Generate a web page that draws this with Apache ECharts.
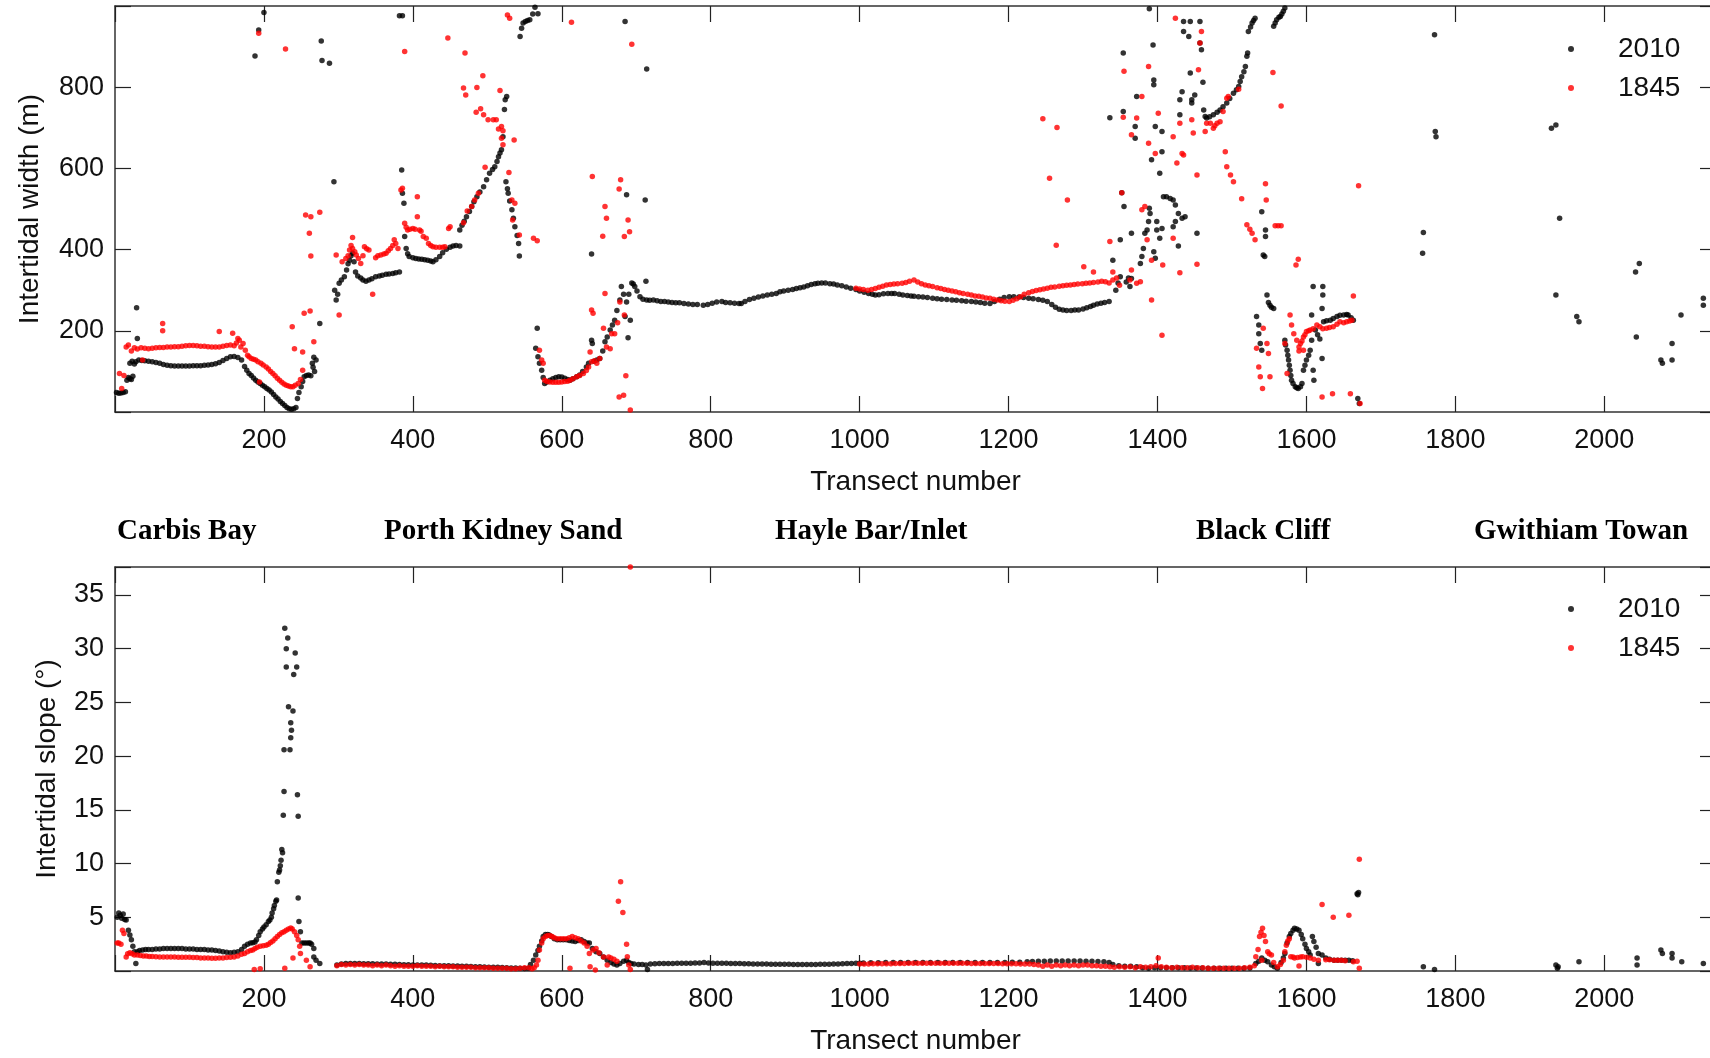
<!DOCTYPE html>
<html>
<head>
<meta charset="utf-8">
<script src="https://cdn.jsdelivr.net/npm/echarts@6/dist/echarts.min.js"></script>
<style>
  html, body { margin: 0; padding: 0; background: #fff; }
  #chart { width: 1710px; height: 1058px; }
</style>
</head>
<body>
<div id="chart"></div>
<script>
// Intertidal width (m), 2010 survey  [transect, value]
const width2010 = [
  [2,48],[5,46],[8,47],[11,48],[14,50],[16,78],[18,85],[20,82],[22,80],[24,88],[20,120],[23,125],[26,118],[28,124],[29,257],[30,181],
  [32,128],[36,127],[40,126],[45,125],[50,124],[55,122],[60,120],[65,117],[70,115],[75,114],[80,113],[85,113],[90,113],[95,113],[100,113],
  [105,114],[110,114],[115,114],[120,115],[125,116],[130,117],[135,119],[140,122],[145,127],[150,132],[155,136],[160,137],[165,134],[170,128],
  [174,112],[177,103],[180,95],[183,90],[186,84],[189,78],[192,74],[195,70],[198,66],[201,62],[204,58],[207,54],[210,49],[213,43],[216,37],
  [219,32],[222,26],[225,21],[228,16],[231,11],[234,8],[237,7],[240,8],[243,11],[245,33],[247,48],[250,62],[252,75],[254,87],[257,90],
  [260,91],[263,89],[265,120],[266,110],[267,135],[268,100],[270,128],[275,218],
  [188,877],[193,941],[200,984],[277,914],[278,866],[288,859],[294,567],[382,976],[386,976],[385,596],
  [295,300],[297,276],[299,290],[301,317],[304,325],[308,333],[311,350],[313,365],[315,374],[317,385],[319,391],[321,370],[323,345],[326,335],
  [330,330],[333,325],[337,322],[341,325],[345,328],[350,333],[355,335],[359,337],[364,339],[368,340],[373,341],[377,343],[382,345],[386,539],
  [388,514],[389,432],[391,403],[393,390],[395,383],[400,380],[404,378],[408,377],[412,376],[416,375],[420,374],[424,372],[427,370],[431,375],
  [436,383],[440,392],[445,401],[450,406],[454,409],[458,410],[463,409],
  [463,448],[466,460],[469,470],[472,481],[476,494],[479,506],[482,518],[486,530],[490,542],[495,555],[499,572],[503,588],[507,597],[510,604],
  [513,617],[515,629],[517,638],[519,646],[521,678],[523,745],[524,769],[526,777],
  [525,567],[527,550],[528,539],[530,520],[533,498],[535,477],[537,456],[540,435],[542,415],[543,384],
  [544,925],[546,945],[548,958],[551,962],[554,964],[557,966],[561,980],[564,997],[568,981],
  [567,206],[565,157],[568,136],[570,120],[573,103],[575,85],[577,70],[580,74],[584,78],[588,82],[592,85],[596,87],[600,86],[604,83],[608,80],
  [611,78],[615,82],[620,87],[624,91],[628,100],[633,111],[636,120],[640,177],[641,169],[643,125],[647,128],[651,132],[655,150],[658,173],
  [661,185],[665,202],[668,214],[671,226],[674,250],[678,276],[680,309],[683,290],[685,235],[687,271],[689,183],[692,226],[690,290],
  [640,389],[685,962],[687,535],[712,522],[713,322],[714,845],
  [694,318],[696,315],[698,309],[701,298],[705,284],[709,278],[714,276],[718,275],[723,276],[728,274],[733,272],[738,272],[743,271],[748,270],
  [753,269],[758,269],[764,267],[770,266],[776,265],[782,265],[790,263],[796,265],[802,268],[808,271],[815,272],[820,270],[826,269],[832,268],
  [838,267],[841,267],[846,272],[852,277],[858,280],[864,283],[870,286],[876,288],[882,290],[888,292],[893,296],[898,298],[904,300],[910,302],
  [915,304],[920,306],[925,308],[930,311],[935,314],[940,316],[944,317],[949,318],[954,318],[960,316],[965,315],[970,313],[976,311],[982,308],
  [988,305],[995,302],[1000,298],[1006,295],[1012,292],[1017,290],[1021,288],[1026,289],[1032,291],[1038,292],[1043,292],[1047,292],[1053,290],
  [1058,288],[1064,287],[1069,286],[1073,285],[1079,284],[1085,283],[1091,282],[1098,280],[1104,279],[1110,278],[1117,277],[1124,276],[1130,275],
  [1137,274],[1143,273],[1150,272],[1156,271],[1162,270],[1168,268],[1175,267],[1181,272],[1188,278],[1194,282],[1201,284],[1207,284],[1214,283],
  [1220,282],[1227,280],[1233,279],[1240,277],[1246,275],[1252,272],[1258,265],[1263,258],[1268,253],[1273,251],[1278,250],[1284,250],[1289,251],
  [1294,251],[1300,254],[1305,257],[1310,260],[1314,263],[1319,266],[1324,268],[1329,270],[1335,272],
  [1336,725],[1340,374],[1344,300],[1347,318],[1350,333],[1350,424],[1352,540],[1354,740],[1354,884],[1355,506],[1358,320],[1361,330],[1363,309],
  [1365,329],[1365,440],[1370,703],[1370,674],[1372,777],[1377,366],[1379,383],[1381,403],[1383,440],[1386,448],[1388,469],[1389,993],[1389,502],
  [1390,489],[1392,621],[1394,904],[1395,806],[1395,818],[1395,395],[1397,703],[1397,379],[1399,469],[1399,448],[1403,588],[1403,428],[1406,691],
  [1406,641],[1406,452],[1408,530],[1412,530],[1417,526],[1421,522],[1424,510],[1424,469],[1421,456],[1428,489],[1428,409],[1430,732],[1430,769],
  [1433,789],[1433,477],[1435,937],[1435,962],[1437,481],[1442,925],[1444,962],[1444,835],[1446,769],[1446,761],[1450,781],[1453,440],[1457,962],
  [1457,909],[1459,892],[1461,812],[1462,744],[1464,728],
  [1466,724],[1470,727],[1475,732],[1480,738],[1484,744],[1488,752],[1493,761],[1497,772],[1502,785],[1506,794],[1509,802],[1511,814],[1513,826],
  [1516,838],[1518,851],[1520,876],[1521,884],[1522,937],[1525,948],[1527,958],[1529,964],[1531,970],
  [1556,950],[1558,958],[1560,966],[1563,972],[1565,974],[1567,980],[1569,987],[1571,995],
  [1533,235],[1536,214],[1536,193],[1538,169],[1540,152],[1540,493],[1542,387],[1544,383],[1545,448],[1545,432],[1547,288],[1549,270],[1551,263],
  [1553,258],[1556,255],
  [1571,177],[1572,165],[1574,152],[1575,140],[1576,128],[1577,115],[1578,103],[1579,90],[1580,78],[1582,70],[1585,62],[1587,60],[1589,58],
  [1592,62],[1594,70],[1596,103],[1598,115],[1600,128],[1603,140],[1605,152],[1607,177],[1607,239],[1609,309],[1609,103],[1610,78],[1612,202],
  [1615,190],[1618,180],[1621,132],[1622,309],[1622,288],[1621,255],[1623,222],[1627,225],[1632,226],[1636,230],[1641,235],[1645,238],[1650,239],
  [1654,240],[1656,239],[1660,232],[1663,226],[1669,33],[1671,21],
  [1756,391],[1757,442],[1772,929],[1773,691],[1774,678],[1929,699],[1935,707],[1940,477],[1935,288],[1963,235],[1966,222],[2042,345],[2047,366],
  [2043,185],[2076,128],[2078,120],[2091,169],[2091,128],[2103,239],[2133,280],[2133,263]
];

// Intertidal width (m), 1845 survey
const width1845 = [
  [6,95],[9,58],[12,90],[15,160],[18,165],[22,150],[26,158],[30,155],[35,158],[37,128],[40,157],[45,156],[50,157],[55,158],[60,159],[64,218],
  [64,200],[65,159],[70,160],[75,160],[80,161],[85,161],[90,162],[95,163],[100,164],[105,164],[110,163],[115,162],[120,162],[125,161],[130,160],
  [135,160],[140,160],[140,198],[145,162],[150,164],[155,165],[158,194],[160,163],[163,170],[165,181],[167,177],[169,160],[172,169],[175,152],
  [178,140],[180,136],[183,132],[186,130],[189,128],[192,124],[194,74],[196,120],[199,116],[203,111],[206,106],[209,100],[212,95],[215,89],
  [218,83],[221,78],[224,73],[227,69],[230,66],[233,64],[236,62],[239,62],[241,156],[238,210],[242,66],[246,70],[249,80],[252,148],[252,103],
  [254,243],[256,485],[261,440],[262,249],[263,384],[263,481],[267,173],[275,492],[193,933],[229,894],
  [297,387],[301,239],[305,370],[310,378],[313,385],[315,399],[317,410],[319,430],[319,403],[322,395],[324,387],[327,378],[330,366],[333,385],
  [335,407],[338,402],[341,399],[346,290],[350,380],[353,385],[357,387],[361,389],[364,391],[367,397],[370,403],[373,410],[375,424],[377,415],
  [380,403],[384,547],[386,551],[389,465],[389,888],[391,455],[393,448],[396,450],[400,452],[403,450],[406,530],[406,481],[409,448],[411,445],
  [414,432],[418,428],[421,415],[424,410],[427,407],[431,406],[436,406],[440,406],[443,407],[448,452],[450,456],
  [447,921],[468,466],[470,884],[468,798],[471,781],[486,799],[494,828],[517,792],[485,738],[491,747],[495,732],[501,720],[508,720],[512,720],
  [515,697],[519,703],[521,693],[519,674],[521,658],[536,670],[497,603],[529,590],[488,539],[483,522],[479,506],[473,495],[533,522],[537,514],
  [534,473],[543,436],[562,428],[567,422],[527,978],[530,970],[613,960],[694,906],
  [570,152],[573,128],[575,120],[577,78],[580,75],[584,74],[588,73],[592,73],[596,73],[600,74],[604,75],[608,76],[611,78],[615,82],[620,87],
  [624,90],[629,95],[633,102],[636,111],[638,148],[640,124],[642,243],[640,251],[644,126],[647,120],[651,132],[656,206],[658,292],[660,160],
  [665,156],[667,193],[671,193],[675,220],[678,271],[684,239],[641,580],[658,506],[660,477],[655,433],[677,549],[679,572],[689,473],[691,444],
  [684,432],[686,89],[677,37],[683,41],[692,5],
  [995,305],[1000,303],[1005,302],[1011,300],[1016,302],[1021,304],[1026,307],[1031,310],[1036,313],[1041,314],[1046,315],[1051,316],[1057,317],
  [1062,319],[1067,322],[1073,325],[1078,320],[1083,316],[1088,313],[1093,311],[1098,309],[1104,306],[1109,304],[1114,302],[1119,300],[1124,298],
  [1129,296],[1134,294],[1139,292],[1145,290],[1150,288],[1155,286],[1160,285],[1165,283],[1170,281],[1175,280],[1180,278],[1185,276],[1190,274],
  [1195,273],[1201,272],[1206,275],[1211,279],[1216,284],[1221,290],[1227,294],[1232,297],[1237,299],[1242,301],[1247,303],[1252,305],[1257,307],
  [1262,308],[1268,310],[1273,311],[1278,312],[1283,313],[1288,314],[1293,315],[1299,316],[1304,317],[1309,318],[1314,319],[1320,320],[1325,322],
  [1330,321],[1335,318],[1340,325],[1345,330],[1349,312],
  [1246,722],[1265,701],[1255,576],[1279,522],[1264,411],[1301,358],[1314,345],[1336,420],[1340,345],[1352,540],[1354,726],[1355,839],
  [1363,325],[1365,350],[1365,683],[1372,317],[1372,724],[1377,321],[1379,498],[1379,777],[1383,506],[1386,424],[1388,851],[1388,662],[1392,374],
  [1392,276],[1397,637],[1401,736],[1406,189],[1407,362],[1421,678],[1421,428],[1424,970],[1426,613],[1430,711],[1430,343],[1433,637],[1435,633],
  [1446,720],[1448,687],[1453,584],[1453,364],[1455,843],[1457,909],[1459,937],[1464,691],[1466,711],[1471,711],[1475,699],[1477,705],[1480,711],
  [1484,715],[1488,740],[1491,641],[1493,773],[1495,777],[1493,604],[1498,584],[1502,567],[1509,795],[1513,525],[1520,461],[1524,450],[1527,440],
  [1531,424],[1545,562],[1546,522],[1555,836],[1566,754],[1558,459],[1562,459],[1566,459],[1589,376],[1586,362],[1670,557],
  [1533,157],[1536,111],[1538,87],[1541,58],[1542,206],[1547,169],[1549,144],[1551,87],[1571,169],[1574,95],[1578,239],[1580,214],[1583,193],
  [1587,177],[1590,160],[1592,169],[1594,175],[1596,185],[1598,190],[1600,198],[1603,200],[1605,202],[1609,205],[1614,214],[1618,210],[1622,205],
  [1627,206],[1631,208],[1636,210],[1641,216],[1645,222],[1650,220],[1654,222],[1658,224],[1661,226],[1663,286],[1621,37],[1635,45],[1659,45],
  [1672,21],[1596,152],[1590,150]
];

// Intertidal slope (deg), 2010 survey
const slope2010 = [
  [3,5.0],[5,5.4],[7,5.2],[9,4.9],[11,5.3],[13,4.8],[15,4.75],[18,3.8],[20,3.35],[22,2.9],[24,2.3],[26,1.8],[28,0.7],[30,1.8],
  [33,1.9],[37,1.95],[41,2.0],[45,2.0],[50,2.0],[55,2.05],[60,2.05],[65,2.1],[70,2.1],[75,2.1],[80,2.1],[85,2.1],[90,2.1],[95,2.05],[100,2.05],
  [105,2.05],[110,2.0],[115,2.0],[120,2.0],[125,1.95],[130,1.95],[135,1.9],[140,1.85],[145,1.8],[150,1.75],[155,1.7],[160,1.75],[165,1.8],
  [170,2.0],[174,2.3],[178,2.5],[182,2.6],[185,2.64],[188,2.7],[190,2.9],[193,3.3],[195,3.66],[198,3.9],[200,4.1],[203,4.3],[206,4.6],[208,4.75],
  [210,5.0],[211,5.4],[213,5.8],[214,6.1],[216,6.5],[217,6.6],[218,8.3],[220,9.2],[221,9.4],[222,9.8],[223,10.3],[224,11.3],[225,11.0],[226,14.5],
  [227,16.7],[227,20.6],[228,31.9],[230,28.3],[230,30.0],[232,31.0],[233,24.6],[235,20.6],[236,23.1],[236,21.7],[237,22.4],[239,24.2],[240,27.6],
  [242,29.6],[244,28.3],[245,16.4],[246,14.4],[246,6.8],[247,4.6],[249,3.66],[251,2.6],[254,2.6],[257,2.6],[260,2.6],[262,2.6],[264,2.5],[267,2.1],
  [267,1.3],[270,1.0],[275,0.7],
  [298,0.55],[304,0.65],[310,0.7],[316,0.7],[322,0.7],[328,0.7],[334,0.68],[340,0.68],[346,0.67],[352,0.66],[358,0.65],[364,0.64],[370,0.63],
  [376,0.62],[382,0.6],[388,0.59],[394,0.58],[400,0.57],[406,0.56],[412,0.55],[418,0.55],[424,0.54],[430,0.52],[436,0.5],[442,0.5],[448,0.49],
  [454,0.47],[460,0.46],[466,0.45],[472,0.44],[478,0.42],[484,0.4],[490,0.39],[496,0.38],[502,0.36],[508,0.35],[514,0.34],[520,0.33],[526,0.31],
  [532,0.29],[538,0.27],[544,0.25],[550,0.24],[555,0.25],
  [558,0.6],[562,1.0],[565,1.5],[568,1.9],[570,2.3],[573,2.8],[575,3.2],[578,3.4],[581,3.4],[583,3.35],[586,3.2],[590,3.0],[594,2.9],[598,2.9],
  [602,2.9],[606,2.9],[610,2.85],[614,2.8],[618,2.75],[622,2.85],[626,2.9],[630,2.75],[634,2.6],[637,2.6],[641,2.1],[646,1.8],[651,1.64],[656,1.3],
  [661,1.0],[666,0.8],[670,0.65],[674,0.55],[678,0.7],[683,0.9],[687,1.0],[690,0.8],[693,0.7],[697,0.65],[703,0.6],[708,0.6],[713,0.55],[715,0.15],
  [719,0.65],[725,0.68],[731,0.7],[737,0.7],[743,0.7],[749,0.7],[755,0.72],[761,0.72],[767,0.72],[773,0.72],[779,0.75],[785,0.75],[791,0.78],
  [797,0.75],[803,0.72],[809,0.72],[815,0.72],[821,0.72],[827,0.7],[833,0.7],[839,0.7],[845,0.68],[851,0.68],[857,0.66],[863,0.66],[869,0.65],
  [875,0.65],[881,0.63],[887,0.63],[893,0.62],[899,0.62],[905,0.62],[911,0.6],[917,0.6],[923,0.6],[929,0.6],[935,0.6],[941,0.6],[947,0.62],
  [953,0.62],[959,0.63],[965,0.65],[971,0.66],[977,0.68],[983,0.7],[989,0.7],[995,0.72],[1000,0.72],
  [1005,0.75],[1015,0.76],[1025,0.77],[1035,0.78],[1045,0.78],[1055,0.78],[1065,0.8],[1075,0.8],[1085,0.8],[1095,0.8],[1105,0.8],[1115,0.8],
  [1125,0.8],[1135,0.8],[1145,0.8],[1155,0.8],[1165,0.8],[1175,0.8],[1185,0.8],[1195,0.8],[1205,0.82],[1215,0.82],[1225,0.85],[1232,0.88],
  [1240,0.9],[1248,0.9],[1256,0.92],[1264,0.92],[1272,0.92],[1280,0.92],[1288,0.92],[1296,0.92],[1304,0.9],[1312,0.9],[1320,0.88],[1328,0.85],
  [1335,0.8],
  [1340,0.6],[1348,0.5],[1356,0.45],[1364,0.45],[1372,0.4],[1380,0.3],[1388,0.25],[1396,0.3],[1404,0.3],[1412,0.3],[1420,0.3],[1428,0.3],
  [1436,0.3],[1444,0.28],[1452,0.28],[1460,0.28],[1468,0.26],[1476,0.26],[1484,0.26],[1492,0.26],[1500,0.25],[1508,0.25],[1516,0.25],[1524,0.28],
  [1532,0.7],[1536,0.9],[1540,1.2],[1544,1.0],[1548,0.87],[1553,0.55],[1557,0.4],[1561,0.25],[1566,0.8],[1569,1.2],[1571,1.64],[1574,2.6],
  [1577,3.2],[1579,3.5],[1582,3.8],[1584,3.97],[1587,3.9],[1590,3.8],[1593,3.4],[1595,3.0],[1598,2.5],[1600,2.1],[1603,1.8],[1605,1.5],[1608,3.2],
  [1610,2.75],[1613,2.2],[1616,1.64],[1621,1.5],[1626,1.2],[1631,1.1],[1637,1.0],[1642,1.0],[1647,1.0],[1652,1.0],[1657,1.0],[1662,0.95],
  [1668,7.2],[1669,7.1],[1670,7.3],[1616,0.7],
  [1757,0.4],[1772,0.15],[1935,0.55],[1937,0.25],[1938,0.4],[1966,0.87],[2044,1.2],[2044,0.55],[2076,1.95],[2078,1.64],[2091,1.64],[2091,1.2],
  [2104,0.87],[2133,0.7]
];

// Intertidal slope (deg), 1845 survey
const slope1845 = [
  [3,2.6],[5,2.6],[8,2.5],[10,3.8],[12,3.5],[15,1.3],[17,1.6],[20,1.7],[23,1.6],[26,1.5],[30,1.5],[34,1.45],[38,1.4],[42,1.4],[46,1.35],[50,1.35],
  [55,1.33],[60,1.3],[65,1.3],[70,1.3],[75,1.3],[80,1.3],[85,1.28],[90,1.28],[95,1.27],[100,1.27],[105,1.25],[110,1.25],[115,1.22],[120,1.2],
  [125,1.2],[130,1.18],[135,1.18],[140,1.2],[145,1.22],[150,1.25],[155,1.27],[160,1.3],[165,1.4],[170,1.55],[174,1.64],[178,1.8],[182,1.9],
  [185,1.95],[188,2.1],[191,2.2],[195,2.3],[199,2.35],[203,2.4],[206,2.5],[209,2.65],[212,2.8],[215,3.0],[218,3.2],[221,3.4],[224,3.55],[227,3.66],
  [230,3.8],[233,3.9],[236,4.0],[238,3.9],[241,3.66],[244,3.3],[246,2.9],[248,2.3],[249,1.64],[239,1.2],[228,0.25],[257,1.0],[262,0.4],[187,0.15],
  [195,0.2],
  [298,0.5],[304,0.6],[310,0.55],[316,0.6],[322,0.55],[328,0.6],[334,0.55],[340,0.55],[346,0.5],[352,0.55],[358,0.5],[364,0.55],[370,0.5],
  [376,0.45],[382,0.5],[388,0.45],[394,0.45],[400,0.45],[406,0.5],[412,0.45],[418,0.45],[424,0.45],[430,0.4],[436,0.45],[442,0.4],[448,0.4],
  [454,0.4],[460,0.35],[466,0.35],[472,0.35],[478,0.35],[484,0.3],[490,0.3],[496,0.3],[502,0.3],[508,0.25],[514,0.25],[520,0.25],[526,0.25],
  [532,0.2],[538,0.2],[544,0.25],[550,0.3],[556,0.3],
  [560,0.2],[563,0.3],[566,0.55],[568,1.0],[570,1.95],[573,2.6],[575,3.0],[578,3.2],[581,3.3],[584,3.3],[587,3.2],[590,3.1],[594,3.0],[598,3.0],
  [602,3.0],[606,3.0],[610,3.1],[614,3.2],[618,3.1],[622,3.0],[626,2.8],[630,2.6],[634,2.3],[637,1.64],[638,0.4],[642,1.95],[646,2.1],[650,1.7],
  [656,1.3],[661,0.55],[663,1.3],[666,1.2],[670,1.1],[674,0.9],[676,6.5],[679,8.3],[682,5.45],[687,2.5],[688,1.33],[690,0.55],[692,0.15],
  [692,37.6],[611,0.25],[645,0.1],
  [1000,0.65],[1006,0.66],[1012,0.66],[1018,0.67],[1024,0.67],[1030,0.68],[1036,0.68],[1042,0.68],[1048,0.7],[1054,0.7],[1060,0.7],[1066,0.72],
  [1072,0.72],[1078,0.72],[1084,0.72],[1090,0.72],[1096,0.72],[1102,0.72],[1108,0.72],[1114,0.72],[1120,0.72],[1126,0.72],[1132,0.72],[1138,0.72],
  [1144,0.72],[1150,0.7],[1156,0.7],[1162,0.7],[1168,0.7],[1174,0.7],[1180,0.7],[1186,0.7],[1192,0.68],[1198,0.68],[1204,0.68],[1210,0.68],
  [1216,0.66],[1222,0.66],[1228,0.65],[1234,0.6],[1240,0.55],[1246,0.45],[1252,0.55],[1258,0.45],[1264,0.55],[1270,0.5],[1276,0.55],[1282,0.5],
  [1288,0.55],[1294,0.5],[1300,0.55],[1306,0.55],[1312,0.5],[1318,0.5],[1324,0.45],[1330,0.45],[1336,0.4],
  [1342,0.35],[1349,0.4],[1356,0.35],[1363,0.4],[1370,0.3],[1377,0.4],[1384,0.35],[1391,0.4],[1398,0.5],[1401,1.2],[1405,0.4],[1412,0.35],
  [1419,0.3],[1426,0.35],[1433,0.3],[1440,0.3],[1447,0.35],[1454,0.3],[1461,0.3],[1468,0.25],[1475,0.25],[1482,0.25],[1489,0.25],[1496,0.25],
  [1503,0.25],[1510,0.25],[1517,0.3],[1524,0.35],[1530,0.5],
  [1532,1.33],[1535,2.0],[1537,3.2],[1539,3.6],[1541,3.97],[1543,3.3],[1545,2.75],[1548,1.8],[1550,1.6],[1553,1.5],[1540,1.0],[1556,0.8],[1561,0.4],
  [1565,0.6],[1569,1.0],[1571,1.8],[1573,2.4],[1575,2.8],[1577,3.0],[1579,1.33],[1582,1.3],[1584,1.2],[1588,1.25],[1590,0.46],[1592,1.3],[1595,1.33],
  [1600,1.28],[1605,1.2],[1610,1.1],[1616,1.0],[1621,6.2],[1626,1.05],[1631,1.05],[1636,5.0],[1637,1.0],[1642,1.0],[1647,1.0],[1652,0.95],
  [1657,5.2],[1663,0.87],[1668,0.9],[1671,10.4],[1671,0.25]
];

const siteNames = ['Carbis Bay', 'Porth Kidney Sand', 'Hayle Bar/Inlet', 'Black Cliff', 'Gwithiam Towan'];
const siteLeft = [117, 384, 775, 1196, 1474];

const sans = '"Liberation Sans", Arial, Helvetica, sans-serif';
const axisColor = '#333';

// only label the inner multiples of the step, not the ends of the range
const innerLabel = (step, max) => (v) => (v <= 0 || v >= max || v % step !== 0) ? '' : String(v)

const makeX = (gridIndex, bottom) => ({
  type: 'value',
  gridIndex: gridIndex,
  position: bottom ? 'bottom' : 'top',
  min: 0,
  max: 2150,
  interval: 200,
  splitLine: { show: false },
  axisLine: { onZero: false, lineStyle: { color: axisColor, width: 1.5 } },
  axisTick: { inside: true, length: 16, lineStyle: { color: '#222', width: 1.2 } },
  axisLabel: bottom
    ? { show: true, margin: 15, fontSize: 27, color: '#111', fontFamily: sans, formatter: innerLabel(200, 2150) }
    : { show: false },
  name: bottom ? 'Transect number' : '',
  nameLocation: 'middle',
  nameGap: 56,
  nameTextStyle: { fontSize: 28, color: '#111', fontFamily: sans }
})

const makeY = (gridIndex, left, max, interval, name, gap) => ({
  type: 'value',
  gridIndex: gridIndex,
  position: left ? 'left' : 'right',
  min: 0,
  max: max,
  interval: interval,
  splitLine: { show: false },
  axisLine: { onZero: false, lineStyle: { color: axisColor, width: 1.5 } },
  axisTick: { inside: true, length: 16, lineStyle: { color: '#222', width: 1.2 } },
  axisLabel: left
    ? { show: true, margin: 11, fontSize: 27, color: '#111', fontFamily: sans, formatter: innerLabel(interval, max) }
    : { show: false },
  name: left ? name : '',
  nameLocation: 'middle',
  nameGap: gap,
  nameTextStyle: { fontSize: 28, color: '#111', fontFamily: sans }
})

const makeLegend = (top) => ({
  data: ['2010', '1845'],
  orient: 'vertical',
  left: 1563,
  top: top,
  icon: 'circle',
  itemWidth: 84,
  itemHeight: 6,
  itemGap: 11,
  textStyle: { fontSize: 28, color: '#111', fontFamily: sans },
  selectedMode: false
})

const dotSeries = (name, color, data, idx) => ({
  name: name,
  type: 'scatter',
  xAxisIndex: idx,
  yAxisIndex: idx,
  data: data,
  symbol: 'circle',
  symbolSize: 5.5,
  itemStyle: { color: color },
  silent: true
})

const chart = echarts.init(document.getElementById('chart'))
chart.setOption({
  animation: false,
  backgroundColor: '#fff',
  // the plot frame runs a little past the right edge of the picture
  grid: [
    { left: 115, width: 1601, top: 6, height: 406, outerBoundsMode: 'none' },
    { left: 115, width: 1601, top: 567, height: 404, outerBoundsMode: 'none' }
  ],
  xAxis: [makeX(0, true), makeX(0, false), makeX(1, true), makeX(1, false)],
  yAxis: [
    makeY(0, true, 1000, 200, 'Intertidal width (m)', 71),
    makeY(0, false, 1000, 200, '', 0),
    makeY(1, true, 37.6, 5, 'Intertidal slope (°)', 54),
    makeY(1, false, 37.6, 5, '', 0)
  ],
  legend: [makeLegend(30), makeLegend(590)],
  series: [
    dotSeries('2010', '#000000', width2010, 0),
    dotSeries('1845', '#ff0000', width1845, 0),
    dotSeries('2010', '#000000', slope2010, 2),
    dotSeries('1845', '#ff0000', slope1845, 2)
  ],
  graphic: siteNames.map((name, i) => ({
    type: 'text',
    left: siteLeft[i],
    top: 517,
    style: {
      text: name,
      font: 'bold 29px "Liberation Serif", "Times New Roman", serif',
      fill: '#000'
    }
  }))
})
</script>
</body>
</html>
